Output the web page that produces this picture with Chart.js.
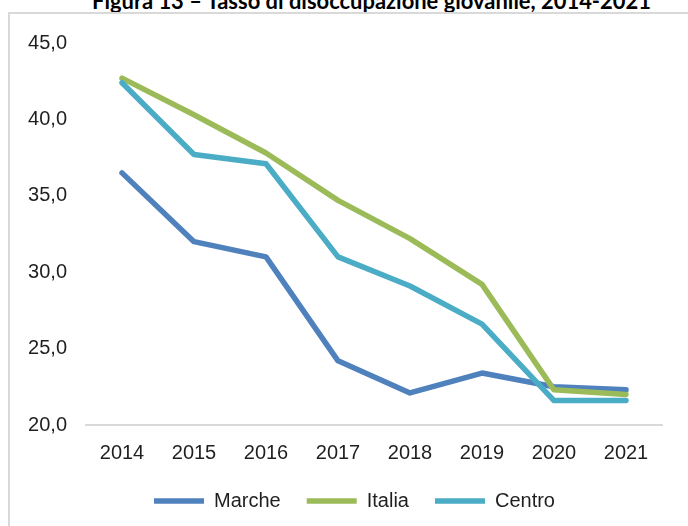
<!DOCTYPE html>
<html><head><meta charset="utf-8">
<script src="https://cdn.jsdelivr.net/npm/chart.js@4/dist/chart.umd.min.js"></script>
<style>
html,body{margin:0;padding:0;width:688px;height:526px;overflow:hidden;background:#fff;}
#title{position:absolute;left:92px;top:-8px;font-family:Lato,"Open Sans",sans-serif;font-weight:bold;font-size:19px;line-height:19px;white-space:nowrap;color:#000;z-index:1;}
#box{position:absolute;left:8px;top:12px;width:720px;height:560px;background:#fff;border-top:2px solid #d9d9d9;border-left:2px solid #d9d9d9;z-index:2;}
#wrap{position:absolute;left:0;top:0;width:688px;height:526px;z-index:3;}
</style></head>
<body>
<div id="title">Figura 13 – Tasso di disoccupazione giovanile, 2014-2021</div>
<div id="box"></div>
<div id="wrap"><canvas id="c" width="688" height="526"></canvas></div>
<script>
const years = ['2014','2015','2016','2017','2018','2019','2020','2021'];
const seriesNames = ['Marche','Italia','Centro'];
const marche = [36.5, 32.0, 31.0, 24.2, 22.1, 23.4, 22.5, 22.3];
const italia = [42.7, 40.3, 37.8, 34.7, 32.2, 29.2, 22.3, 22.0];
const centro = [42.4, 37.7, 37.1, 31.0, 29.1, 26.6, 21.6, 21.6];
const yMin = 20, yMax = 45, yStep = 5;

(function(){
  const t = document.getElementById('title');
  const ctx = document.createElement('canvas').getContext('2d');
  ctx.font = 'bold 19px Lato, "Open Sans", sans-serif';
  const w = ctx.measureText(t.textContent).width;
  const size = 19 * 560 / w;
  t.style.fontSize = size + 'px';
  t.style.lineHeight = size + 'px';
  t.style.top = (9 - 0.887 * size) + 'px';
})();

const font = {family: '"Liberation Sans", Arial, sans-serif', size: 20};
const txt = '#1f1f1f';
const colors = ['#4F81BD', '#9BBB59', '#4BACC6'];
const values = [marche, italia, centro];

const legendShift = {
  id: 'legendShift',
  afterLayout(chart) { if (chart.legend) { chart.legend.left += 21; } }
};

new Chart(document.getElementById('c'), {
  type: 'line',
  data: {
    labels: years,
    datasets: seriesNames.map((n, i) => ({
      label: n, data: values[i], borderColor: colors[i], backgroundColor: colors[i],
      borderWidth: 5.5, pointRadius: 0, pointHoverRadius: 0, tension: 0, fill: false,
      borderJoinStyle: 'round', borderCapStyle: 'round', order: 3 - i
    }))
  },
  plugins: [legendShift],
  options: {
    responsive: false, animation: false, events: [],
    layout: {padding: {left: 26, right: 26, top: 43, bottom: 5}},
    plugins: {
      legend: { position: 'bottom',
        labels: { usePointStyle: true, pointStyle: 'line', pointStyleWidth: 50, padding: 26,
          font: font, color: txt, sort: (a, b) => a.datasetIndex - b.datasetIndex } },
      tooltip: {enabled: false}
    },
    scales: {
      x: { offset: true,
        grid: {display: false, drawTicks: false, offset: true},
        border: {display: true, color: '#d9d9d9', width: 2},
        ticks: {font: font, color: txt, padding: 16, maxRotation: 0},
        afterFit: s => { s.height = 40; s.paddingLeft = 0; s.paddingRight = 0; } },
      y: { min: yMin, max: yMax, grid: {display: false, drawTicks: false}, border: {display: false},
        ticks: {stepSize: yStep, font: font, color: txt, padding: 19,
          callback: v => v.toFixed(1).replace('.', ',')},
        afterFit: s => { s.width = 60; } }
    }
  }
});
</script>
</body></html>
